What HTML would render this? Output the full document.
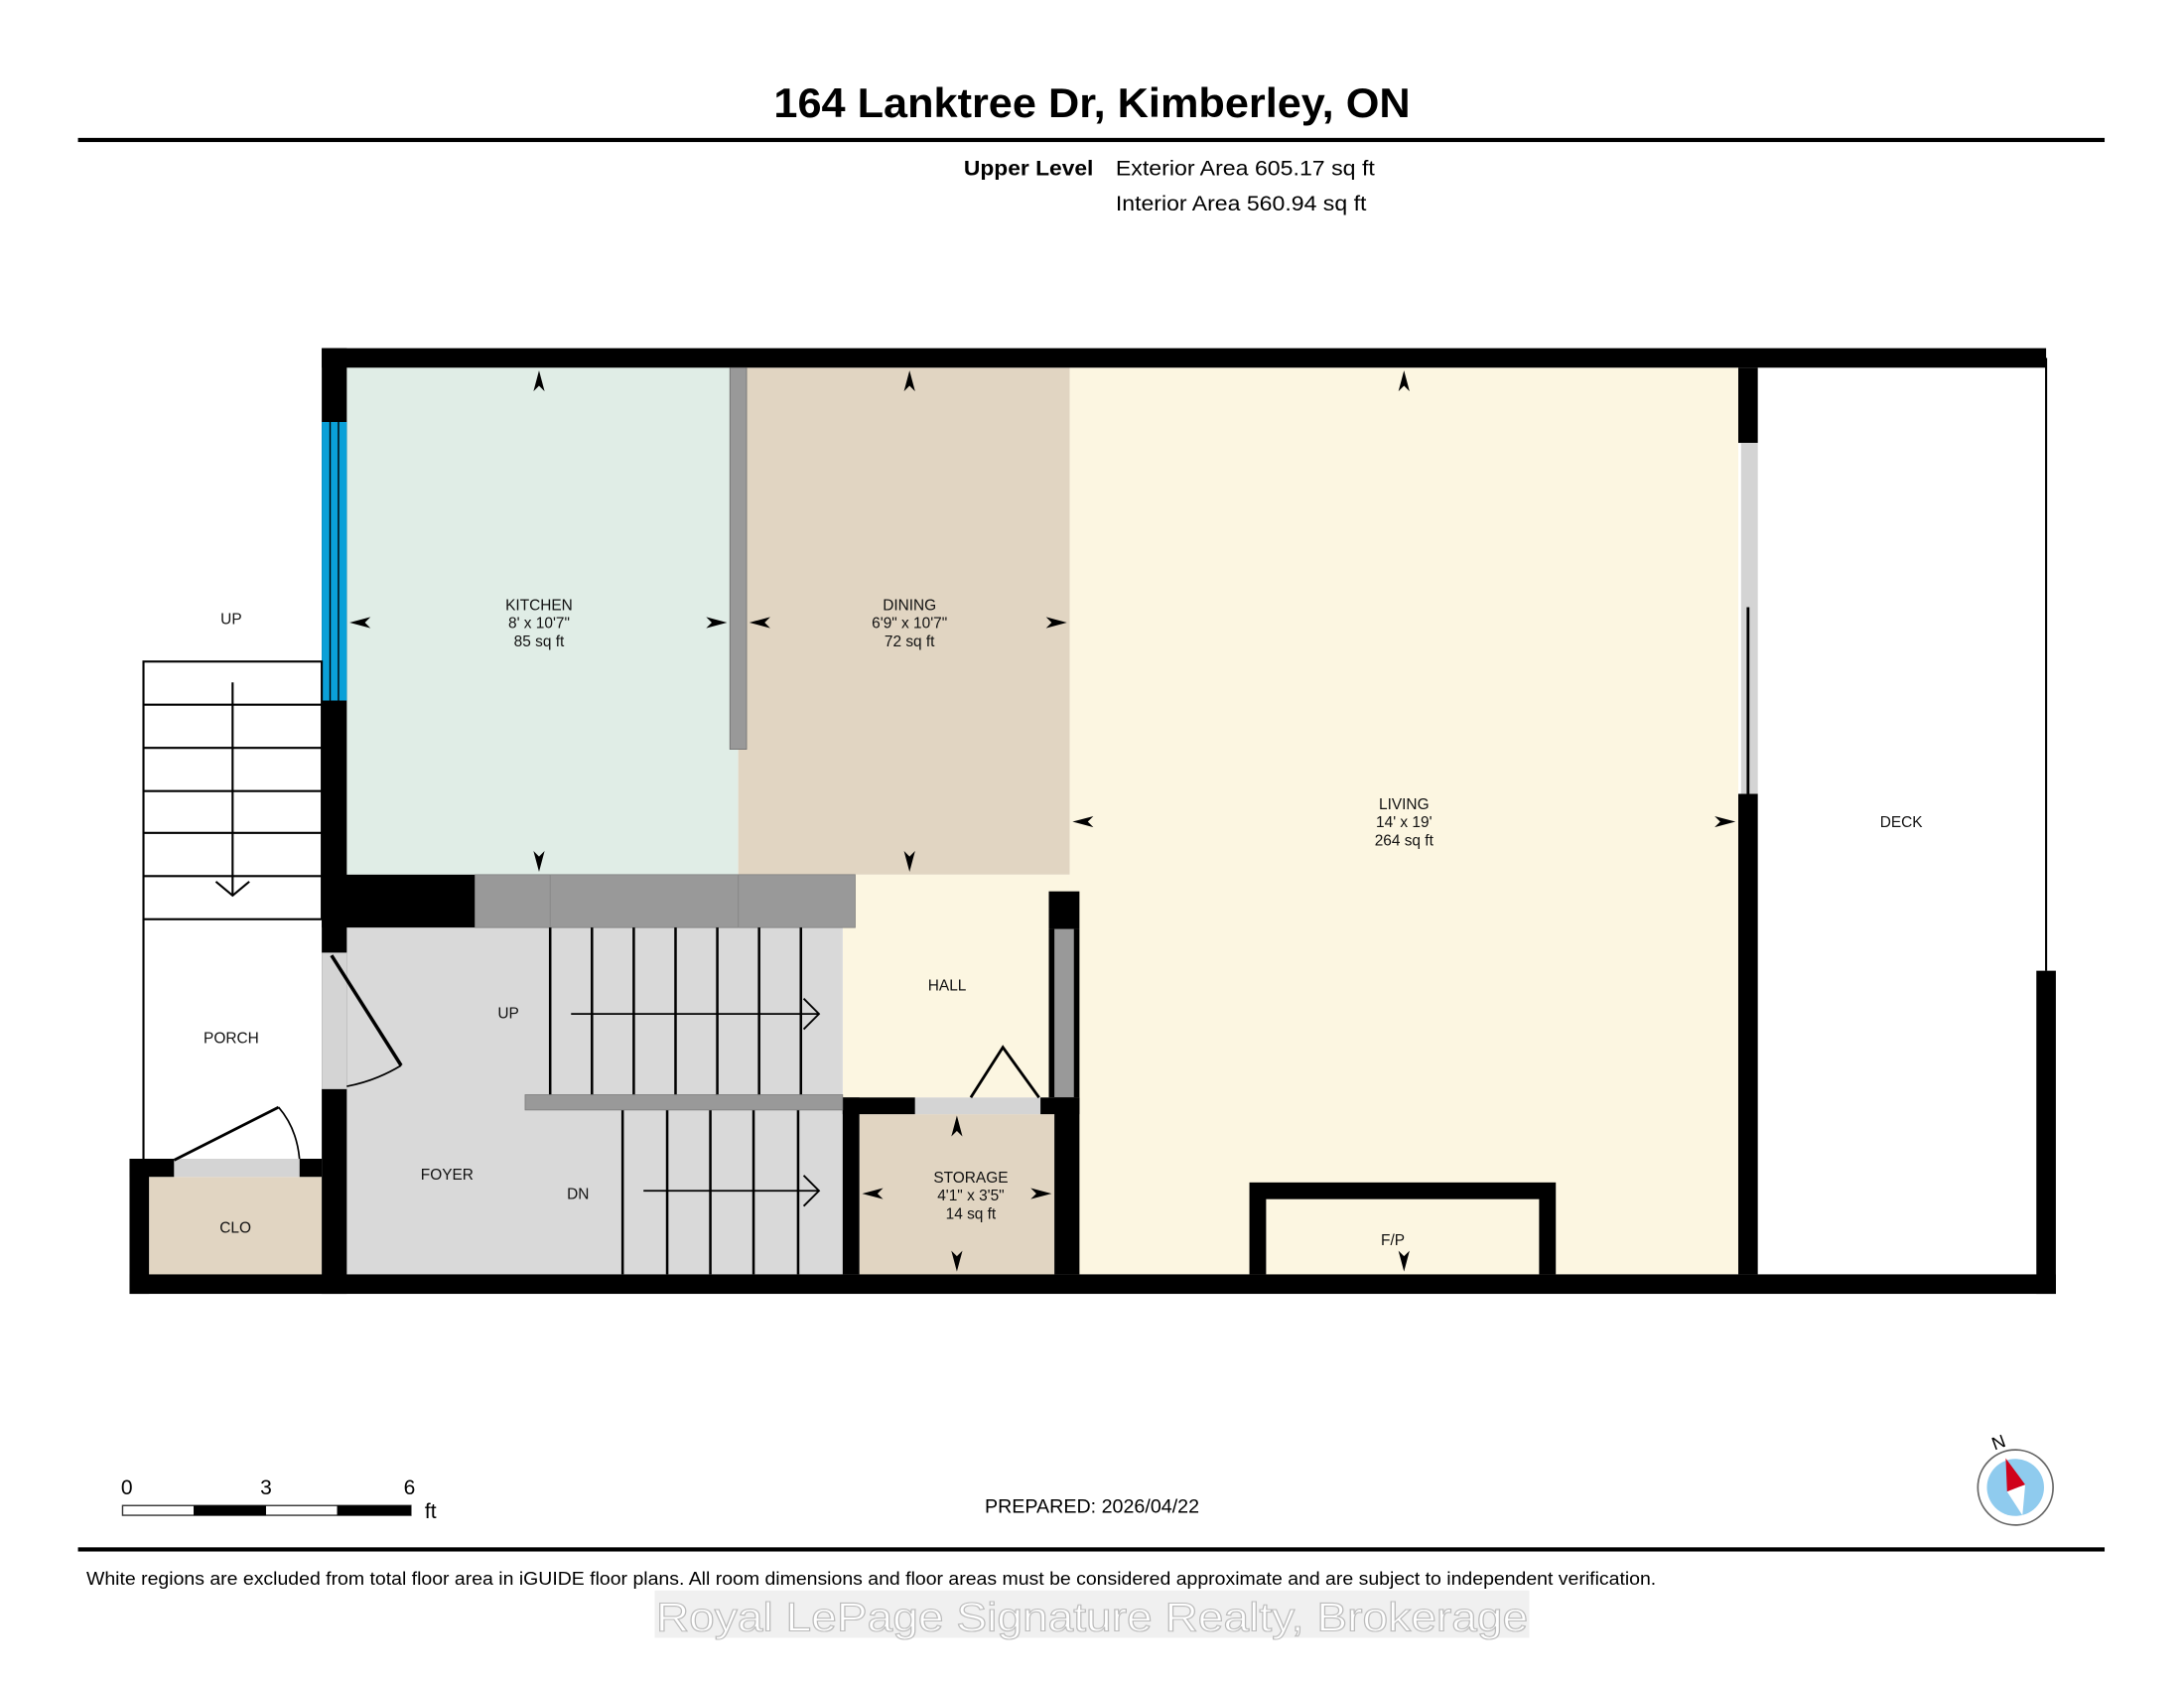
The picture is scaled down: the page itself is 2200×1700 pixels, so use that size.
<!DOCTYPE html>
<html><head><meta charset="utf-8"><style>html,body{margin:0;padding:0;background:#fff}svg{display:block}</style></head>
<body>
<svg width="2200" height="1700" viewBox="0 0 1568 1212" preserveAspectRatio="none" xmlns="http://www.w3.org/2000/svg" font-family="'Liberation Sans', sans-serif">
<rect width="1568" height="1212" fill="#fff"/>
<text x="784" y="84" text-anchor="middle" font-size="30" font-weight="bold" textLength="457" lengthAdjust="spacingAndGlyphs">164 Lanktree Dr, Kimberley, ON</text>
<rect x="56" y="99" width="1455" height="3" fill="#000"/>
<text x="785" y="126" text-anchor="end" font-size="15" font-weight="bold" textLength="93" lengthAdjust="spacingAndGlyphs">Upper Level</text>
<text x="801" y="126" font-size="15" textLength="186" lengthAdjust="spacingAndGlyphs">Exterior Area 605.17 sq ft</text>
<text x="801" y="151" font-size="15" textLength="180" lengthAdjust="spacingAndGlyphs">Interior Area 560.94 sq ft</text>

<!-- fills -->
<rect x="249" y="264" width="281" height="364" fill="#e0ede6"/>
<rect x="530" y="264" width="238" height="364" fill="#e1d5c2"/>
<rect x="768" y="264" width="480" height="651" fill="#fcf6e1"/>
<rect x="605" y="628" width="163" height="160" fill="#fcf6e1"/>
<rect x="249" y="666" width="356" height="249" fill="#d9d9d9"/>
<rect x="617" y="800" width="140" height="115" fill="#e1d5c2"/>
<rect x="107" y="845" width="124" height="70" fill="#e1d5c2"/>

<!-- outer walls -->
<rect x="231" y="250" width="1238" height="14" fill="#000"/>
<rect x="231" y="250" width="18" height="679" fill="#000"/>
<rect x="231" y="303" width="18" height="200" fill="#0aa0d8"/>
<line x1="237" y1="303" x2="237" y2="503" stroke="#000" stroke-width="1"/>
<line x1="243" y1="303" x2="243" y2="503" stroke="#000" stroke-width="1"/>
<rect x="93" y="915" width="1383" height="14" fill="#000"/>
<rect x="1462" y="697" width="14" height="232" fill="#000"/>
<line x1="1469" y1="257" x2="1469" y2="697" stroke="#000" stroke-width="1.5"/>
<rect x="1248" y="264" width="14" height="54" fill="#000"/>
<rect x="1248" y="570" width="14" height="345" fill="#000"/>
<rect x="1250" y="318" width="12" height="252" fill="#d4d4d4"/>
<line x1="1255" y1="436" x2="1255" y2="570" stroke="#000" stroke-width="2"/>

<!-- interior walls -->
<rect x="524" y="264" width="12" height="274" fill="#999" stroke="#666" stroke-width="0.5"/>
<rect x="231" y="628" width="110" height="38" fill="#000"/>
<rect x="341" y="628" width="273" height="38" fill="#999" stroke="#777" stroke-width="0.5"/>
<line x1="395" y1="628" x2="395" y2="666" stroke="#888" stroke-width="0.7"/>
<line x1="530" y1="628" x2="530" y2="666" stroke="#888" stroke-width="0.7"/>
<rect x="753" y="640" width="22" height="27" fill="#000"/>
<rect x="753" y="667" width="22" height="121" fill="#000"/>
<rect x="757" y="667" width="14" height="121" fill="#999"/>
<rect x="605" y="788" width="52" height="12" fill="#000"/>
<rect x="657" y="788" width="90" height="12" fill="#d4d4d4"/>
<rect x="747" y="788" width="28" height="12" fill="#000"/>
<rect x="605" y="788" width="12" height="127" fill="#000"/>
<rect x="757" y="788" width="18" height="127" fill="#000"/>
<polyline points="697,788 720,752 746,788" fill="none" stroke="#000" stroke-width="2"/>
<!-- F/P -->
<rect x="897" y="849" width="220" height="66" fill="#000"/>
<rect x="909" y="861" width="196" height="54" fill="#fcf6e1"/>

<!-- stairs up -->
<g stroke="#000" stroke-width="1.8" fill="none">
<line x1="395" y1="666" x2="395" y2="786"/><line x1="425" y1="666" x2="425" y2="786"/><line x1="455" y1="666" x2="455" y2="786"/><line x1="485" y1="666" x2="485" y2="786"/><line x1="515" y1="666" x2="515" y2="786"/><line x1="545" y1="666" x2="545" y2="786"/><line x1="575" y1="666" x2="575" y2="786"/>
<line x1="410" y1="728" x2="588" y2="728" stroke-width="1.3"/>
<polyline points="577,717 588,728 577,739" stroke-width="1.3"/>
<line x1="447" y1="797" x2="447" y2="915"/><line x1="479" y1="797" x2="479" y2="915"/><line x1="510" y1="797" x2="510" y2="915"/><line x1="541" y1="797" x2="541" y2="915"/><line x1="573" y1="797" x2="573" y2="915"/>
<line x1="462" y1="855" x2="588" y2="855" stroke-width="1.3"/>
<polyline points="577,844 588,855 577,866" stroke-width="1.3"/>
</g>
<rect x="377" y="786" width="228" height="11" fill="#999" stroke="#777" stroke-width="0.5"/>

<!-- foyer door -->
<rect x="231" y="684" width="18" height="98" fill="#d4d4d4"/>
<line x1="238" y1="686" x2="288" y2="765" stroke="#000" stroke-width="2.5"/>
<path d="M288 765 Q270 776 249 780" fill="none" stroke="#000" stroke-width="1.2"/>

<!-- porch stairs -->
<g stroke="#000" stroke-width="1.5" fill="none">
<rect x="103" y="475" width="128" height="185"/>
<line x1="103" y1="506" x2="231" y2="506"/><line x1="103" y1="537" x2="231" y2="537"/><line x1="103" y1="568" x2="231" y2="568"/><line x1="103" y1="598" x2="231" y2="598"/><line x1="103" y1="629" x2="231" y2="629"/>
<line x1="167" y1="490" x2="167" y2="643"/>
<polyline points="155,633 167,643 179,633"/>
<line x1="103" y1="660" x2="103" y2="832"/>
</g>
<!-- closet -->
<rect x="93" y="832" width="14" height="97" fill="#000"/>
<rect x="93" y="832" width="32" height="13" fill="#000"/>
<rect x="215" y="832" width="16" height="13" fill="#000"/>
<rect x="125" y="832" width="90" height="13" fill="#d4d4d4"/>
<line x1="125" y1="833" x2="200" y2="795" stroke="#000" stroke-width="2"/>
<path d="M200 795 Q213 810 215 832" fill="none" stroke="#000" stroke-width="1.2"/>

<!-- arrowheads -->
<g fill="#000">
<path d="M387 266 l-4 15 l4 -4 l4 4z"/><path d="M387 626 l-4 -15 l4 4 l4 -4z"/>
<path d="M251 447 l15 -4 l-4 4 l4 4z"/><path d="M522 447 l-15 -4 l4 4 l-4 4z"/>
<path d="M653 266 l-4 15 l4 -4 l4 4z"/><path d="M653 626 l-4 -15 l4 4 l4 -4z"/>
<path d="M538 447 l15 -4 l-4 4 l4 4z"/><path d="M766 447 l-15 -4 l4 4 l-4 4z"/>
<path d="M1008 266 l-4 15 l4 -4 l4 4z"/>
<path d="M770 590 l15 -4 l-4 4 l4 4z"/><path d="M1246 590 l-15 -4 l4 4 l-4 4z"/>
<path d="M687 801 l-4 15 l4 -4 l4 4z"/><path d="M687 913 l-4 -15 l4 4 l4 -4z"/>
<path d="M619 857 l15 -4 l-4 4 l4 4z"/><path d="M755 857 l-15 -4 l4 4 l-4 4z"/>
<path d="M1008 913 l-4 -15 l4 4 l4 -4z"/>
</g>

<!-- labels -->
<g font-size="11" text-anchor="middle" fill="#111">
<text x="387" y="438">KITCHEN</text><text x="387" y="451">8' x 10'7"</text><text x="387" y="464">85 sq ft</text>
<text x="653" y="438">DINING</text><text x="653" y="451">6'9" x 10'7"</text><text x="653" y="464">72 sq ft</text>
<text x="1008" y="581">LIVING</text><text x="1008" y="594">14' x 19'</text><text x="1008" y="607">264 sq ft</text>
<text x="697" y="849">STORAGE</text><text x="697" y="862">4'1" x 3'5"</text><text x="697" y="875">14 sq ft</text>
<text x="1365" y="594">DECK</text>
<text x="680" y="711">HALL</text>
<text x="365" y="731">UP</text>
<text x="321" y="847">FOYER</text>
<text x="415" y="861">DN</text>
<text x="166" y="749">PORCH</text>
<text x="169" y="885">CLO</text>
<text x="166" y="448">UP</text>
<text x="1000" y="894">F/P</text>
</g>

<!-- scale bar -->
<g font-size="15">
<text x="91" y="1073" text-anchor="middle">0</text>
<text x="191" y="1073" text-anchor="middle">3</text>
<text x="294" y="1073" text-anchor="middle">6</text>
<text x="305" y="1090">ft</text>
</g>
<rect x="88" y="1081" width="207" height="7" fill="#fff" stroke="#333" stroke-width="1"/>
<rect x="139" y="1081" width="52" height="7" fill="#000"/>
<rect x="242" y="1081" width="53" height="7" fill="#000"/>
<text x="707" y="1086" font-size="14" textLength="154" lengthAdjust="spacingAndGlyphs">PREPARED: 2026/04/22</text>

<!-- compass -->
<circle cx="1447" cy="1068" r="27" fill="#fff" stroke="#666" stroke-width="1.2"/>
<circle cx="1447" cy="1068" r="20.5" fill="#8fcbee"/>
<path d="M1440 1047 L1454 1066 L1441 1071 Z" fill="#d0021b"/>
<path d="M1441 1071 L1454 1066 L1452 1088 Z" fill="#fff"/>
<text x="1435" y="1040" font-size="13" text-anchor="middle" transform="rotate(-20 1435 1036)">N</text>

<rect x="56" y="1111" width="1455" height="3" fill="#000"/>
<text x="62" y="1138" font-size="13" textLength="1127" lengthAdjust="spacingAndGlyphs">White regions are excluded from total floor area in iGUIDE floor plans. All room dimensions and floor areas must be considered approximate and are subject to independent verification.</text>
<rect x="470" y="1142" width="628" height="34" fill="#f0f0f0"/>
<text x="784" y="1171" font-size="29" text-anchor="middle" fill="#fff" stroke="#bbb" stroke-width="0.8" textLength="626" lengthAdjust="spacingAndGlyphs">Royal LePage Signature Realty, Brokerage</text>
</svg>
</body></html>
